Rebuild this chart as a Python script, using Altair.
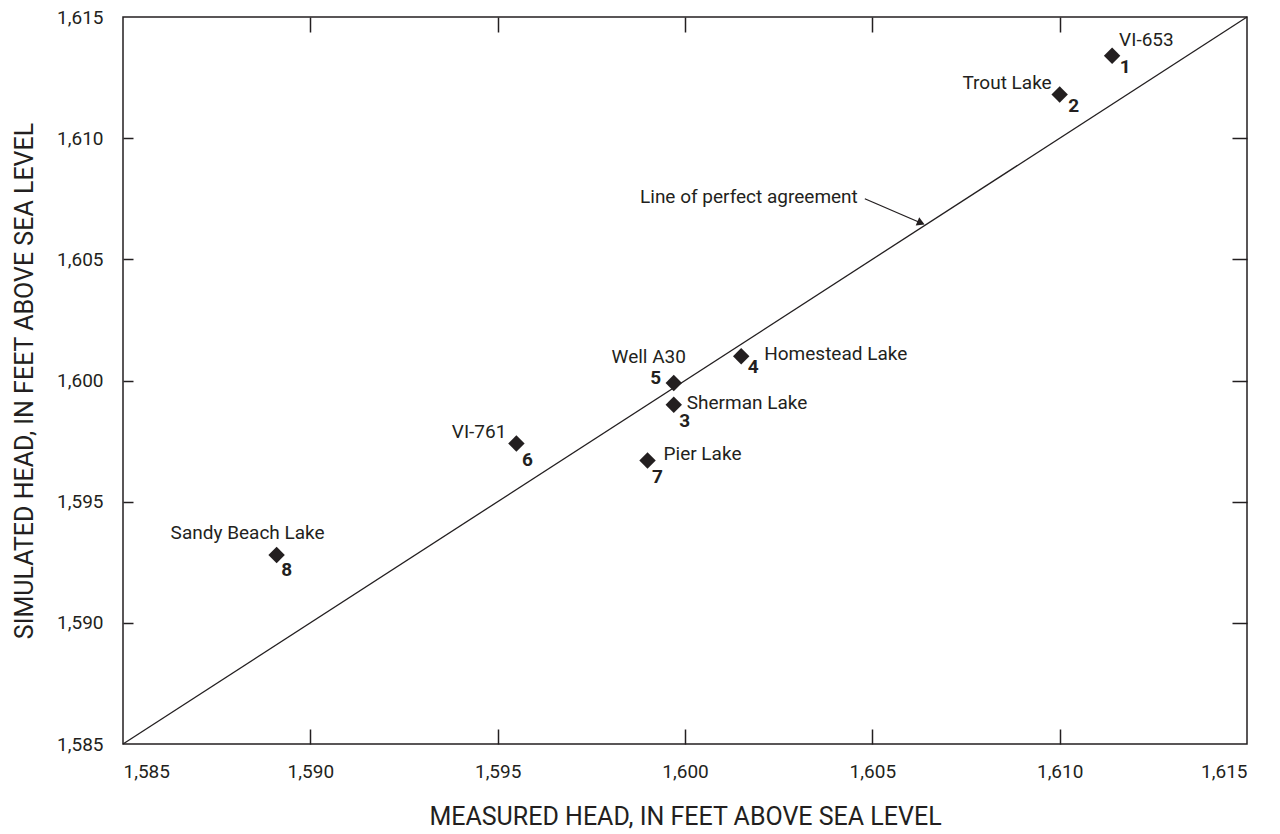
import altair as alt
import pandas as pd

# ---- data ----
ids = [1, 2, 3, 4, 5, 6, 7, 8]
names = ["VI-653", "Trout Lake", "Sherman Lake", "Homestead Lake",
         "Well A30", "VI-761", "Pier Lake", "Sandy Beach Lake"]
measured = [1611.4, 1610.0, 1599.7, 1601.5, 1599.7, 1595.5, 1599.0, 1589.1]
simulated = [1613.4, 1611.8, 1599.0, 1601.0, 1599.9, 1597.4, 1596.7, 1592.8]

axis_min, axis_max = 1585, 1615
tick_values = [1585, 1590, 1595, 1600, 1605, 1610, 1615]
inner_ticks = [1590, 1595, 1600, 1605, 1610]

arrow_label = "Line of perfect agreement"
arrow_x = [1604.8, 1606.3]
arrow_y = [1607.5, 1606.5]

x_title = "MEASURED HEAD, IN FEET ABOVE SEA LEVEL"
y_title = "SIMULATED HEAD, IN FEET ABOVE SEA LEVEL"

# ---- label layout (offsets in px) ----
name_layout = {
    1: ("left", 7, -16), 2: ("right", -8, -12), 3: ("left", 13, -2),
    4: ("left", 23, -2), 5: ("center", -25, -26), 6: ("right", -10, -12),
    7: ("left", 16, -6), 8: ("center", -29, -22),
}
num_layout = {
    1: (13, 11), 2: (14, 11), 3: (11, 16), 4: (12, 11),
    5: (-18, -5), 6: (11, 16), 7: (10, 17), 8: (10, 15),
}

FONT = "Liberation Sans Narrow, Roboto, Liberation Sans, sans-serif"
INK = "#231f20"

pts = pd.DataFrame({"id": ids, "name": names, "x": measured, "y": simulated})
diag = pd.DataFrame({"x": [axis_min, axis_max], "y": [axis_min, axis_max]})
arrow = pd.DataFrame({"x": [arrow_x[0]], "y": [arrow_y[0]],
                      "x2": [arrow_x[1]], "y2": [arrow_y[1]], "label": [arrow_label]})
arrow_head = pd.DataFrame({"x": [arrow_x[1]], "y": [arrow_y[1]]})

sx = alt.Scale(domain=[axis_min, axis_max], nice=False, zero=False)
sy = alt.Scale(domain=[axis_min, axis_max], nice=False, zero=False)

label_x_axis = alt.Axis(orient="bottom", values=tick_values, format=",d", ticks=False,
                        domain=False, grid=False, labelPadding=18, labelFontSize=19,
                        labelFont=FONT, labelColor=INK, title=x_title, titleFont=FONT,
                        titleFontSize=25, titleFontWeight="normal", titleColor=INK,
                        titlePadding=23)
label_y_axis = alt.Axis(orient="left", values=tick_values, format=",d", ticks=False,
                        domain=False, grid=False, labelPadding=20, labelFontSize=19,
                        labelFont=FONT, labelColor=INK, title=y_title, titleFont=FONT,
                        titleFontSize=25, titleFontWeight="normal", titleColor=INK,
                        titlePadding=19)


def tick_axis(orient, size):
    return alt.Axis(orient=orient, values=inner_ticks, offset=-size, tickSize=size,
                    tickColor=INK, tickWidth=1.5, labels=False, domain=False,
                    grid=False, title=None)


# diagonal (carries label axes)
diag_layer = alt.Chart(diag).mark_line(color=INK, strokeWidth=1.3).encode(
    x=alt.X("x:Q", scale=sx, axis=label_x_axis),
    y=alt.Y("y:Q", scale=sy, axis=label_y_axis),
)

# points (carries bottom/left inward ticks)
point_layer = alt.Chart(pts).mark_point(shape="diamond", filled=True, size=270,
                                        color=INK, opacity=1).encode(
    x=alt.X("x:Q", scale=sx, axis=tick_axis("bottom", 15)),
    y=alt.Y("y:Q", scale=sy, axis=tick_axis("left", 10)),
)

# arrow (carries top/right inward ticks)
arrow_layer = alt.Chart(arrow).mark_rule(color=INK, strokeWidth=1.3).encode(
    x=alt.X("x:Q", scale=sx, axis=tick_axis("top", 15)),
    y=alt.Y("y:Q", scale=sy, axis=tick_axis("right", 15)),
    x2="x2:Q", y2="y2:Q",
)
head_layer = alt.Chart(arrow_head).mark_point(shape="triangle-right", filled=True,
                                              size=80, angle=23, color=INK,
                                              opacity=1).encode(
    x=alt.X("x:Q", scale=sx, axis=None),
    y=alt.Y("y:Q", scale=sy, axis=None),
)
arrow_text = alt.Chart(arrow).mark_text(align="right", baseline="middle", dx=-7, dy=-2,
                                        font=FONT, fontSize=19, color=INK).encode(
    x=alt.X("x:Q", scale=sx, axis=None),
    y=alt.Y("y:Q", scale=sy, axis=None),
    text="label:N",
)

layers = [diag_layer, point_layer, arrow_layer, head_layer, arrow_text]

for i in ids:
    al, dx, dy = name_layout[i]
    layers.append(
        alt.Chart(pts).transform_filter(alt.datum.id == i).mark_text(
            align=al, baseline="middle", dx=dx, dy=dy, font=FONT, fontSize=19,
            color=INK).encode(
            x=alt.X("x:Q", scale=sx, axis=None),
            y=alt.Y("y:Q", scale=sy, axis=None),
            text="name:N")
    )
    ndx, ndy = num_layout[i]
    layers.append(
        alt.Chart(pts).transform_filter(alt.datum.id == i).mark_text(
            align="center", baseline="middle", dx=ndx, dy=ndy, font=FONT, fontSize=19,
            fontWeight="bold", color=INK).encode(
            x=alt.X("x:Q", scale=sx, axis=None),
            y=alt.Y("y:Q", scale=sy, axis=None),
            text="id:N")
    )

chart = alt.layer(*layers).resolve_axis(x="independent", y="independent").properties(
    width=1124, height=727,
    autosize=alt.AutoSizeParams(type="none"),
    padding={"left": 123, "top": 17, "right": 33, "bottom": 90},
    background="white",
).configure_view(stroke=INK, strokeWidth=1.5)

chart.save("out.html", embed_options={"renderer": "svg", "actions": False})
